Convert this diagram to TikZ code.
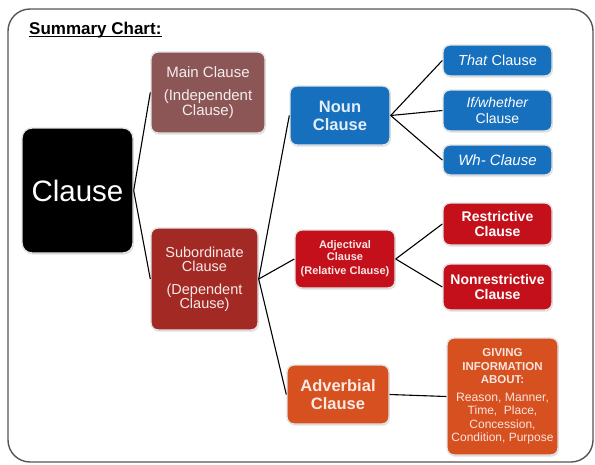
\documentclass[tikz,border=0pt]{standalone}
\usepackage{fontspec}
\setmainfont{Liberation Sans}
\usetikzlibrary{shadows}
\definecolor{mainc}{RGB}{140,86,86}
\definecolor{subc}{RGB}{163,42,36}
\definecolor{nounc}{RGB}{22,112,190}
\definecolor{adjc}{RGB}{196,16,26}
\definecolor{advc}{RGB}{214,80,32}
\definecolor{framec}{RGB}{85,85,85}
\newcommand{\hdfont}{\fontsize{11.5}{12}\selectfont\bfseries}
\tikzset{
  box/.style={rounded corners=7pt, draw=gray!22, line width=1.4pt, inner sep=0pt,
    align=center, text=white,
    drop shadow={opacity=0.25, shadow xshift=0.8pt, shadow yshift=-1.6pt}},
  link/.style={draw=black, line width=1.1pt},
}
\begin{document}
\begin{tikzpicture}[x=1pt,y=-1pt]
\useasboundingbox (0,0) rectangle (595,464);
% outer frame
\draw[framec, line width=1.4pt, rounded corners=22pt] (8,9) rectangle (593,462);
\node[anchor=base west, inner sep=0pt, font=\fontsize{17}{19}\selectfont\bfseries] (title) at (29,34)
  {Summary Chart:};
\draw[line width=1.3pt] ([yshift=-2.5pt]title.base west) -- ([yshift=-2.5pt]title.base east);

% level 0
\node[box, fill=black, rounded corners=10pt, minimum width=111pt, minimum height=125pt,
  font=\fontsize{29.5}{32}\selectfont] (clause) at (77.5,190.5) {Clause};

% level 1
\node[box, fill=mainc, minimum width=114pt, minimum height=81pt, text=white!90!mainc,
  font=\fontsize{15}{15}\selectfont] (main) at (208,92.5)
  {Main Clause\\[8pt](Independent\\Clause)};
\node[box, fill=subc, minimum width=107pt, minimum height=102pt, text=white!90!subc,
  font=\fontsize{14.5}{14.5}\selectfont] (sub) at (204.5,279)
  {Subordinate\\Clause\\[8pt](Dependent\\Clause)};

% level 2
\node[box, fill=nounc, minimum width=100pt, minimum height=59pt, text=white!88!nounc,
  font=\fontsize{16.5}{18}\selectfont\bfseries] (noun) at (340,115.5) {Noun\\Clause};
\node[box, fill=adjc, minimum width=100pt, minimum height=58pt, text=white!90!adjc,
  font=\fontsize{11}{12}\selectfont\bfseries] (adj) at (345,259)
  {Adjectival\\Clause\\[2pt](Relative Clause)};
\node[box, fill=advc, minimum width=102pt, minimum height=59pt, text=white!88!advc,
  font=\fontsize{16.5}{18}\selectfont\bfseries] (adv) at (338,394.5) {Adverbial\\Clause};

% level 3
\node[box, fill=nounc, minimum width=109pt, minimum height=31pt,
  font=\fontsize{14.5}{15}\selectfont] (that) at (497.5,60.5) {\textit{That} Clause};
\node[box, fill=nounc, minimum width=109pt, minimum height=41pt,
  font=\fontsize{14}{15.5}\selectfont] (ifw) at (497.5,110.5) {\textit{If/whether}\\Clause};
\node[box, fill=nounc, minimum width=109pt, minimum height=30pt,
  font=\fontsize{15}{16}\selectfont\itshape] (wh) at (497.5,160) {Wh- Clause};
\node[box, fill=adjc, minimum width=109pt, minimum height=42pt,
  font=\fontsize{14}{15.5}\selectfont\bfseries] (restr) at (497.5,224) {Restrictive\\Clause};
\node[box, fill=adjc, minimum width=109pt, minimum height=46pt,
  font=\fontsize{14}{15.5}\selectfont\bfseries] (nonr) at (497.5,287) {Nonrestrictive\\Clause};
\node[box, fill=advc, minimum width=111pt, minimum height=117pt, text=white!85!advc,
  font=\fontsize{12}{13.5}\selectfont] (info) at (502.5,396.5)
  {\hdfont GIVING\\\hdfont INFORMATION\\\hdfont ABOUT:\\[4pt]
   \fontsize{12.2}{13.5}\selectfont Reason, Manner,\\Time,\ \ Place,\\Concession,\\Condition, Purpose};

% connectors
\draw[link] (clause.east) -- (main.west);
\draw[link] (clause.east) -- (sub.west);
\draw[link] (sub.east) -- (noun.west);
\draw[link] (sub.east) -- (adj.west);
\draw[link] (sub.east) -- (adv.west);
\draw[link] (noun.east) -- (that.west);
\draw[link] (noun.east) -- (ifw.west);
\draw[link] (noun.east) -- (wh.west);
\draw[link] (adj.east) -- (restr.west);
\draw[link] (adj.east) -- (nonr.west);
\draw[link] (adv.east) -- (info.west);
\end{tikzpicture}
\end{document}
